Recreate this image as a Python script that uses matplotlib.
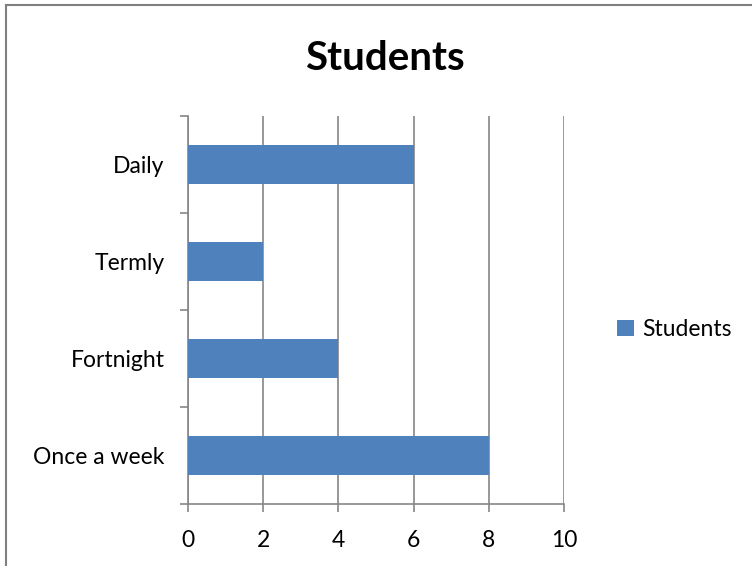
import matplotlib.pyplot as plt
from matplotlib.lines import Line2D
from matplotlib.patches import Patch

plt.rcParams['font.family'] = ['Lato', 'DejaVu Sans']

categories = ["Once a week", "Fortnight", "Termly", "Daily"]
students = [8, 4, 2, 6]
x_ticks = [0, 2, 4, 6, 8, 10]

bar_color = '#4F81BD'
grid_color = '#868686'

fig = plt.figure(figsize=(7.52, 5.66), dpi=100)
ax = fig.add_axes([0.25, 0.1095, 0.5, 0.6855])

pos = list(range(len(categories)))
ax.barh(pos, students, height=0.4, color=bar_color, zorder=3)

ax.set_xlim(0, 10)
ax.set_ylim(-0.5, len(categories) - 0.5)
ax.set_xticks(x_ticks)
ax.set_xticklabels([str(t) for t in x_ticks])

# category labels sit between the boundary tick marks
ax.set_yticks([p - 0.5 for p in range(len(categories) + 1)])
ax.set_yticklabels([])
ax.set_yticks(pos, minor=True)
ax.set_yticklabels(categories, minor=True)
ax.tick_params(axis='y', which='minor', length=0, pad=17, labelsize=16.5)
ax.tick_params(axis='y', which='major', length=6, width=1.2, color=grid_color)
ax.tick_params(axis='x', length=6, width=1.2, color=grid_color, pad=13, labelsize=16.5)

ax.grid(axis='x', color=grid_color, linewidth=1.2, zorder=0)
for side in ['top', 'right']:
    ax.spines[side].set_visible(False)
for side in ['left', 'bottom']:
    ax.spines[side].set_color(grid_color)
    ax.spines[side].set_linewidth(1.2)

fig.text(0.512, 0.897, "Students", ha='center', va='center', fontsize=29, fontweight='bold')

handle = Patch(facecolor=bar_color, edgecolor='none')
fig.legend([handle], ["Students"], loc='center left', bbox_to_anchor=(0.82, 0.418),
           frameon=False, fontsize=16.5, handlelength=0.75, handleheight=0.75,
           handletextpad=0.35, borderaxespad=0, borderpad=0)

# chart frame
fig.add_artist(Line2D([0.008, 0.008], [0, 0.991], color='#7f7f7f', linewidth=1.5))
fig.add_artist(Line2D([0.008, 1.0], [0.991, 0.991], color='#7f7f7f', linewidth=1.5))

fig.savefig("out.png", dpi=100)
